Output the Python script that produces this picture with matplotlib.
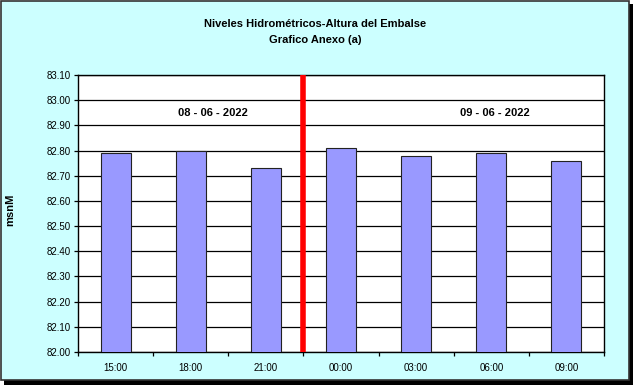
import matplotlib
matplotlib.use("Agg")
import matplotlib.pyplot as plt
from matplotlib.patches import Rectangle

categories = ["15:00", "18:00", "21:00", "00:00", "03:00", "06:00", "09:00"]
values = [82.79, 82.80, 82.73, 82.81, 82.78, 82.79, 82.76]
yticks = [82.00, 82.10, 82.20, 82.30, 82.40, 82.50, 82.60, 82.70, 82.80, 82.90, 83.00, 83.10]
date_labels = ["08 - 06 - 2022", "09 - 06 - 2022"]
date_pos = [1.3, 5.05]
divider_pos = 2.5

plt.rcParams['font.family'] = ['Liberation Sans', 'DejaVu Sans']

W, H = 633, 385
fig = plt.figure(figsize=(W / 100, H / 100), dpi=100)
fig.patch.set_facecolor('white')

# background panel with border and shadow
fig.patches.append(Rectangle((4 / W, 0), 629 / W, 381 / H, transform=fig.transFigure,
                             facecolor='black', edgecolor='none', zorder=-2))
fig.patches.append(Rectangle((1 / W, 5 / H), 628 / W, 379 / H, transform=fig.transFigure,
                             facecolor='#CCFFFF', edgecolor='#333333', linewidth=1.2, zorder=-1))

ax = fig.add_axes([78 / W, (H - 352) / H, (604 - 78) / W, (352 - 75) / H])
ax.set_zorder(2)
ax.set_facecolor('white')
x = list(range(len(categories)))
ax.bar(x, values, width=0.4, bottom=0, color='#9999FF', edgecolor='#222222', linewidth=0.8, zorder=3)
ax.set_xlim(-0.5, len(categories) - 0.5)
ax.set_ylim(82.0, 83.1)
ax.set_yticks(yticks)
ax.set_yticklabels([f"{v:.2f}" for v in yticks], fontsize=7)
ax.yaxis.grid(True, color='black', linewidth=0.9, zorder=1)
ax.set_axisbelow(True)

ax.set_xticks(x)
ax.set_xticklabels(categories, fontsize=7)
ax.set_xticks([i - 0.5 for i in range(len(categories) + 1)], minor=True)
ax.tick_params(axis='x', which='major', length=0, pad=8)
ax.tick_params(axis='x', which='minor', length=3, direction='out', width=0.9)
ax.tick_params(axis='y', length=3, direction='out', width=0.9, pad=2)
for s in ax.spines.values():
    s.set_color('black')
    s.set_linewidth(1)

ax.axvline(divider_pos, color='#FF0000', linewidth=4, zorder=4)

for lbl, p in zip(date_labels, date_pos):
    ax.text(p, 82.95, lbl, ha='center', va='center', fontsize=8, fontweight='bold', zorder=5)

fig.text(315 / W, 1 - 24 / H, "Niveles Hidrométricos-Altura del Embalse", ha='center', va='center',
         fontsize=8, fontweight='bold')
fig.text(315 / W, 1 - 40 / H, "Grafico Anexo (a)", ha='center', va='center',
         fontsize=8, fontweight='bold')
fig.text(10 / W, 1 - 210 / H, "msnM", rotation=90, ha='center', va='center',
         fontsize=8, fontweight='bold')

fig.savefig('out.png', dpi=100)
